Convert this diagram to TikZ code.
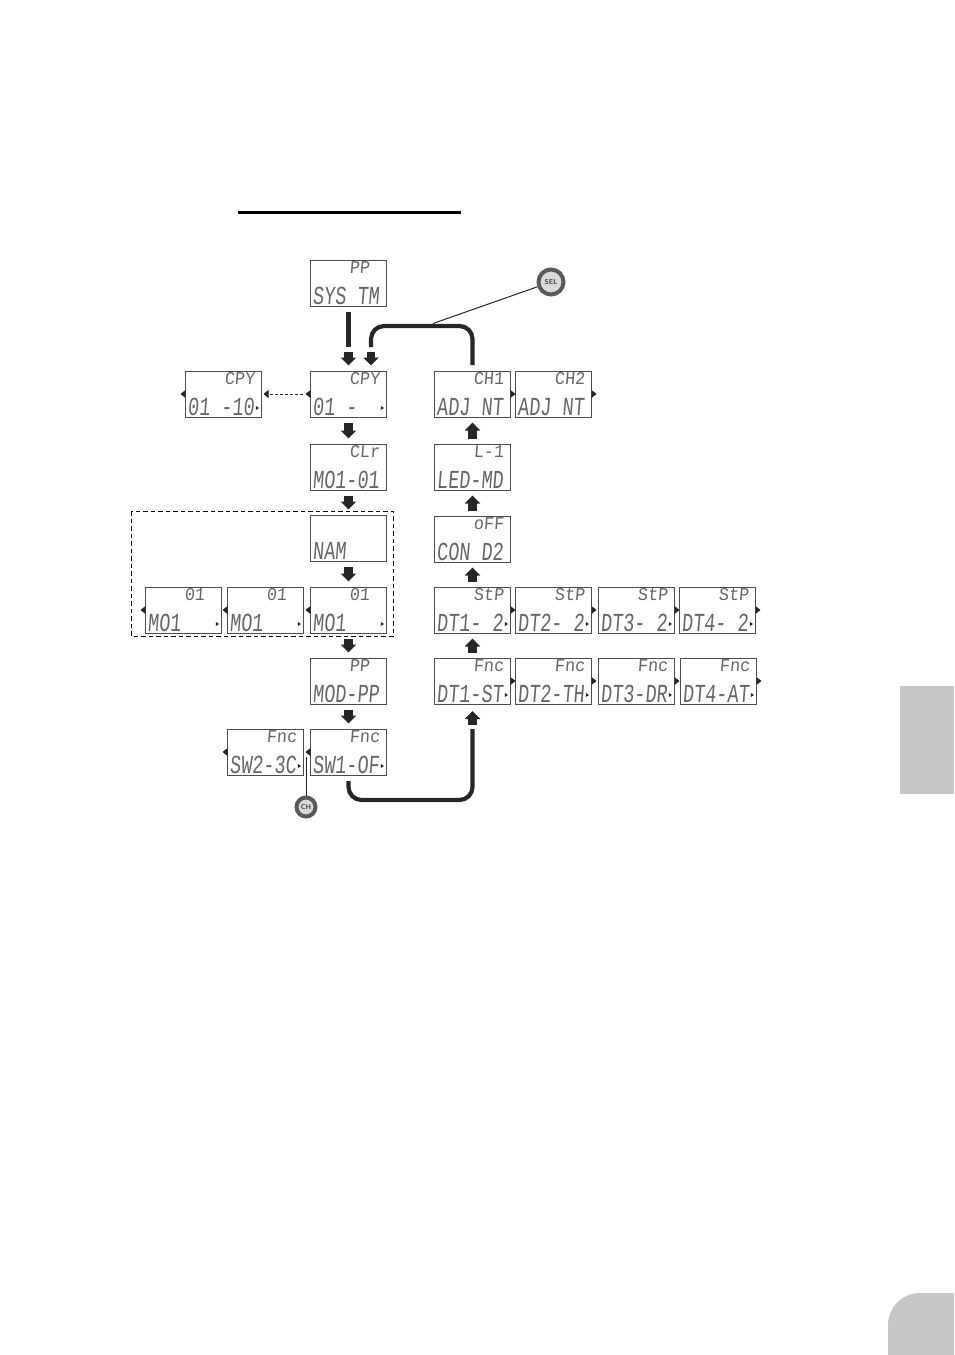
\documentclass[tikz,border=0pt]{standalone}
\usepackage{fontspec}
\usepackage{xcolor}
\usepackage{tikz}
\usetikzlibrary{shapes.geometric, arrows.meta, positioning}
\newfontfamily\lcdbig[FakeStretch=0.71,FakeSlant=0.08]{Liberation Mono}
\newfontfamily\lcdsmall[FakeStretch=0.93,FakeSlant=0.08]{Liberation Mono}
\tikzstyle{lcdbox} = [rectangle, minimum width=76pt, minimum height=46pt, outer sep=0pt, inner sep=0pt, draw=black!70, line width=0.8pt]
\tikzstyle{lcdtop} = [anchor=north west, xshift=39pt, yshift=-1pt, inner sep=0pt, text height=12.5pt, text depth=0pt, text=black!60, font=\fontsize{18}{18}\selectfont\lcdsmall]
\tikzstyle{lcdbot} = [anchor=south west, xshift=2pt, yshift=1pt, inner sep=0pt, text height=17pt, text depth=0pt, text=black!60, font=\fontsize{26}{26}\selectfont\lcdbig]
\tikzstyle{tipright} = [anchor=west, isosceles triangle, isosceles triangle stretches, minimum width=8pt, minimum height=5pt, inner sep=0pt, outer sep=0pt, fill=black!85]
\tikzstyle{tipleft} = [anchor=east, isosceles triangle, isosceles triangle stretches, shape border rotate=180, minimum width=8pt, minimum height=5pt, inner sep=0pt, outer sep=0pt, fill=black!85]
\tikzstyle{tiptiny} = [anchor=center, xshift=-4.5pt, yshift=9pt, isosceles triangle, isosceles triangle stretches, minimum width=4pt, minimum height=3pt, inner sep=0pt, outer sep=0pt, fill=black!85]
\tikzstyle{blockarrow} = [line width=8.5pt, black!85, -{Triangle[width=15pt,length=8pt]}, shorten <=5.5pt, shorten >=5.5pt]
\tikzstyle{headarrow} = [line width=8.5pt, black!85, -{Triangle[width=15pt,length=8pt]}]
\tikzstyle{heavyline} = [line width=4.2pt, black!85]
\tikzstyle{pointer} = [line width=1pt, black!85]
\tikzstyle{button} = [circle, draw=black!65, line width=4pt, fill=black!15, inner sep=0pt, text=black!75, font=\sffamily\bfseries\fontsize{7}{7}\selectfont]

\begin{document}
\begin{tikzpicture}[x=1pt, y=1pt]
    \useasboundingbox (0,0) rectangle (954,-1355);

    % page furniture
    \fill [black] (238,-210.5) rectangle (461,-213.5);
    \fill [black!22] (900,-686) rectangle (954,-794);
    \fill [black!22] (954,-1355) -- (888,-1355) -- (888,-1325) arc (180:90:32) -- (954,-1293) -- cycle;

    % left column
    \node (sys) [lcdbox, label={[lcdtop]north west:PP}, label={[lcdbot]south west:SYS TM}] at (348.5,-283) {};
    \node (cpy) [lcdbox, below=65pt of sys, label={[lcdtop]north west:CPY}, label={[lcdbot]south west:01 -}, label={[tipleft]west:}, label={[tiptiny]south east:}] {};
    \node (cpyten) [lcdbox, left=49pt of cpy, label={[lcdtop]north west:CPY}, label={[lcdbot]south west:01 -10}, label={[tipleft]west:}, label={[tiptiny]south east:}] {};
    \node (clr) [lcdbox, below=27pt of cpy, label={[lcdtop]north west:CLr}, label={[lcdbot]south west:MO1-01}] {};
    \node (nam) [lcdbox, below=25pt of clr, label={[lcdbot]south west:NAM}] {};
    \node (modc) [lcdbox, below=26pt of nam, label={[lcdtop]north west:01\ }, label={[lcdbot]south west:MO1}, label={[tipleft]west:}, label={[tiptiny]south east:}] {};
    \node (modb) [lcdbox, left=7pt of modc, label={[lcdtop]north west:01\ }, label={[lcdbot]south west:MO1}, label={[tipleft]west:}, label={[tiptiny]south east:}] {};
    \node (moda) [lcdbox, left=6pt of modb, label={[lcdtop]north west:01\ }, label={[lcdbot]south west:MO1}, label={[tipleft]west:}, label={[tiptiny]south east:}] {};
    \node (modpp) [lcdbox, below=25pt of modc, label={[lcdtop]north west:PP}, label={[lcdbot]south west:MOD-PP}] {};
    \node (swa) [lcdbox, below=25pt of modpp, label={[lcdtop]north west:Fnc}, label={[lcdbot]south west:SW1-OF}, label={[tipleft]west:}, label={[tiptiny]south east:}] {};
    \node (swb) [lcdbox, left=7pt of swa, label={[lcdtop]north west:Fnc}, label={[lcdbot]south west:SW2-3C}, label={[tipleft]west:}, label={[tiptiny]south east:}] {};

    % right column
    \node (adja) [lcdbox, right=48pt of cpy, label={[lcdtop]north west:CH1}, label={[lcdbot]south west:ADJ NT}, label={[tipright]east:}] {};
    \node (adjb) [lcdbox, right=5pt of adja, label={[lcdtop]north west:CH2}, label={[lcdbot]south west:ADJ NT}, label={[tipright]east:}] {};
    \node (led) [lcdbox, below=27pt of adja, label={[lcdtop]north west:L-1}, label={[lcdbot]south west:LED-MD}] {};
    \node (cond) [lcdbox, below=26pt of led, label={[lcdtop]north west:oFF}, label={[lcdbot]south west:CON D2}] {};
    \node (stepa) [lcdbox, below=25pt of cond, label={[lcdtop]north west:StP}, label={[lcdbot]south west:DT1- 2}, label={[tipright]east:}, label={[tiptiny]south east:}] {};
    \node (stepb) [lcdbox, right=5pt of stepa, label={[lcdtop]north west:StP}, label={[lcdbot]south west:DT2- 2}, label={[tipright]east:}, label={[tiptiny]south east:}] {};
    \node (stepc) [lcdbox, right=7pt of stepb, label={[lcdtop]north west:StP}, label={[lcdbot]south west:DT3- 2}, label={[tipright]east:}, label={[tiptiny]south east:}] {};
    \node (stepd) [lcdbox, right=5pt of stepc, label={[lcdtop]north west:StP}, label={[lcdbot]south west:DT4- 2}, label={[tipright]east:}, label={[tiptiny]south east:}] {};
    \node (fnca) [lcdbox, below=25pt of stepa, label={[lcdtop]north west:Fnc}, label={[lcdbot]south west:DT1-ST}, label={[tipright]east:}, label={[tiptiny]south east:}] {};
    \node (fncb) [lcdbox, right=5pt of fnca, label={[lcdtop]north west:Fnc}, label={[lcdbot]south west:DT2-TH}, label={[tipright]east:}, label={[tiptiny]south east:}] {};
    \node (fncc) [lcdbox, right=7pt of fncb, label={[lcdtop]north west:Fnc}, label={[lcdbot]south west:DT3-DR}, label={[tipright]east:}, label={[tiptiny]south east:}] {};
    \node (fncd) [lcdbox, right=6pt of fncc, label={[lcdtop]north west:Fnc}, label={[lcdbot]south west:DT4-AT}, label={[tipright]east:}, label={[tiptiny]south east:}] {};

    % buttons
    \node (selbtn) [button, minimum size=25pt] at (551,-282) {SEL};
    \node (chbtn) [button, minimum size=19pt] at (306,-807) {CH};

    % free ends
    \coordinate (sysend) at (348.5,-347);
    \coordinate (syshead) at (348.5,-351.5);
    \coordinate (sysin) at (348.5,-365.5);
    \coordinate (loopend) at (371,-347);
    \coordinate (loophead) at (371,-351.5);
    \coordinate (loopin) at (371,-365.5);
    \coordinate (looptop) at (472.5,-326);
    \coordinate (selhit) at (433,-323.5);
    \coordinate (swend) at (348.5,-781);
    \coordinate (swlow) at (472.5,-800);
    \coordinate (fncfrom) at (472.5,-729);
    \coordinate (fnchead) at (472.5,-725);
    \coordinate (fncin) at (472.5,-711);
    \coordinate (chhit) at (306,-757);

    % block arrows
    \draw [heavyline, shorten <=6pt] (sys) -- (sysend);
    \draw [headarrow] (syshead) -- (sysin);
    \draw [blockarrow] (cpy) -- (clr);
    \draw [blockarrow] (clr) -- (nam);
    \draw [blockarrow] (nam) -- (modc);
    \draw [blockarrow] (modc) -- (modpp);
    \draw [blockarrow] (modpp) -- (swa);
    \draw [blockarrow] (fnca) -- (stepa);
    \draw [blockarrow] (stepa) -- (cond);
    \draw [blockarrow] (cond) -- (led);
    \draw [blockarrow] (led) -- (adja);

    % heavy return lines
    \draw [heavyline, rounded corners=13pt, shorten <=6pt] (adja.north) -- (looptop) -| (loopend);
    \draw [headarrow] (loophead) -- (loopin);
    \draw [heavyline, rounded corners=13pt] (swend) |- (swlow) -- (fncfrom);
    \draw [headarrow] (fnchead) -- (fncin);

    % pointers and dashed part
    \draw [pointer] (selbtn) -- (selhit);
    \draw [pointer] (chbtn) -- (chhit);
    \draw [pointer, dash pattern=on 3pt off 2pt, -{Triangle[width=8pt,length=5pt]}, shorten <=8pt, shorten >=2pt] (cpy.west) -- (cpyten.east);
    \draw [black, line width=1pt, dash pattern=on 4.5pt off 3pt] (131,-511) rectangle (393,-636);

\end{tikzpicture}
\end{document}
